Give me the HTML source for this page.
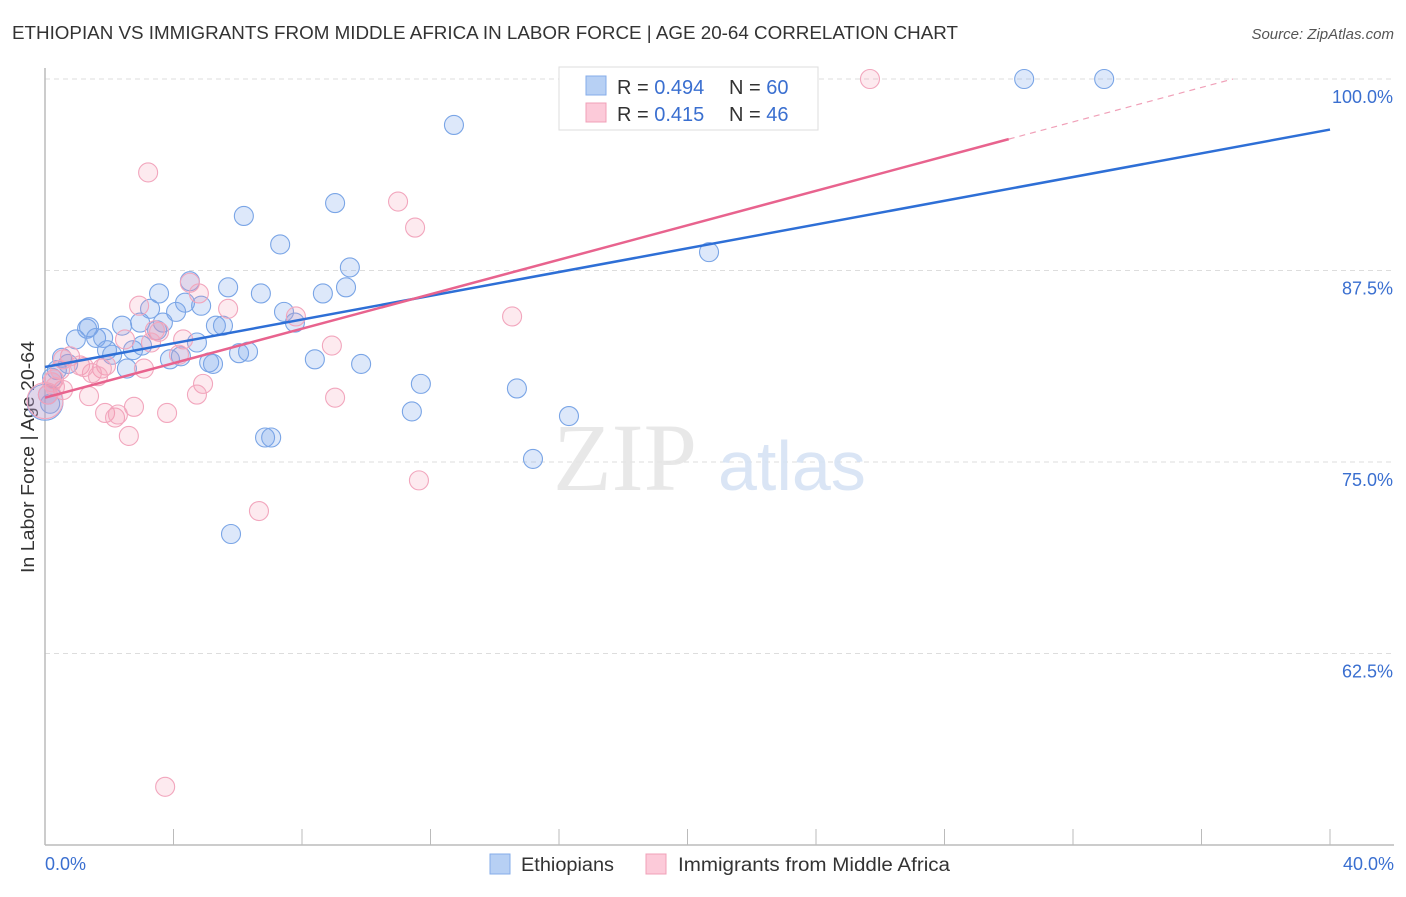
<!DOCTYPE html>
<html><head><meta charset="utf-8"><style>
body{margin:0;background:#fff;font-family:"Liberation Sans",sans-serif;}
</style></head><body>
<svg id="chart" width="1406" height="892" xmlns="http://www.w3.org/2000/svg" font-family="Liberation Sans, sans-serif">
<text x="12" y="39" font-size="18" fill="#333" textLength="946" lengthAdjust="spacingAndGlyphs">ETHIOPIAN VS IMMIGRANTS FROM MIDDLE AFRICA IN LABOR FORCE | AGE 20-64 CORRELATION CHART</text>
<text x="1394" y="39" font-size="15" fill="#555" font-style="italic" text-anchor="end">Source: ZipAtlas.com</text>
<text transform="translate(34,457) rotate(-90)" font-size="18" fill="#333" text-anchor="middle" textLength="232" lengthAdjust="spacingAndGlyphs">In Labor Force | Age 20-64</text>
<g id="grid"></g>
<g opacity="0.9">
<text x="553" y="490" font-family="Liberation Serif, serif" font-size="96" fill="#e6e6e6">ZIP</text>
<text x="718" y="490" font-size="70" fill="#d6e3f4">atlas</text>
</g>
<g id="marks"></g>
<g id="trend"></g>
<g>
<rect x="559" y="67" width="259" height="63" fill="#fff" stroke="#ddd"/>
<rect x="586" y="76" width="20" height="19" fill="#b7d0f4" stroke="#86acea"/>
<rect x="586" y="103" width="20" height="19" fill="#fccad9" stroke="#f0a0b8"/>
<text x="617" y="94" font-size="20" fill="#333">R = <tspan fill="#3a6fd0">0.494</tspan></text>
<text x="729" y="94" font-size="20" fill="#333">N = <tspan fill="#3a6fd0">60</tspan></text>
<text x="617" y="121" font-size="20" fill="#333">R = <tspan fill="#3a6fd0"> 0.415</tspan></text>
<text x="729" y="121" font-size="20" fill="#333">N = <tspan fill="#3a6fd0">46</tspan></text>
</g>
<g>
<rect x="490" y="854" width="20" height="20" fill="#b7d0f4" stroke="#86acea"/>
<text x="521" y="871" font-size="19" fill="#333" textLength="93" lengthAdjust="spacingAndGlyphs">Ethiopians</text>
<rect x="646" y="854" width="20" height="20" fill="#fccad9" stroke="#f0a0b8"/>
<text x="678" y="871" font-size="19" fill="#333" textLength="272" lengthAdjust="spacingAndGlyphs">Immigrants from Middle Africa</text>
</g>
</svg>
<script>
const xTicks=[0,4,8,12,16,20,24,28,32,36,40];
const yTicks=[100,87.5,75,62.5];
const yTickLabels=["100.0%","87.5%","75.0%","62.5%"];
const ethX=[30.48,32.97,12.73,6.19,9.03,7.32,20.67,9.49,4.51,3.55,5.70,6.72,8.65,9.37,4.36,4.86,4.08,7.44,3.27,7.78,2.40,1.31,1.37,3.67,5.32,5.54,2.96,0.96,1.59,1.81,3.02,2.74,4.73,1.93,2.09,0.53,3.89,4.23,5.11,5.23,6.04,6.32,8.40,9.84,2.55,0.37,0.72,0.22,11.70,14.69,11.42,16.31,6.85,7.04,15.19,5.79,0.09,0.16,0,3.49];
const ethY=[100,100,97.0,91.06,91.9,89.2,88.7,87.7,86.8,86.0,86.4,86.0,86.0,86.4,85.4,85.2,84.8,84.8,85.0,84.1,83.9,83.7,83.8,84.1,83.9,83.9,84.1,83.0,83.1,83.1,82.6,82.3,82.8,82.3,82.0,81.8,81.7,81.9,81.5,81.4,82.1,82.2,81.7,81.4,81.1,81.0,81.4,80.5,80.1,79.8,78.3,78.0,76.6,76.6,75.2,70.3,79.4,78.8,78.9,83.6];
const ethBig=[0,0,0,0,0,0,0,0,0,0,0,0,0,0,0,0,0,0,0,0,0,0,0,0,0,0,0,0,0,0,0,0,0,0,0,0,0,0,0,0,0,0,0,0,0,0,0,0,0,0,0,0,0,0,0,0,0,0,1,0];
const immX=[25.68,3.21,10.99,11.52,4.51,4.79,5.70,2.93,14.54,7.81,3.42,3.55,2.49,4.30,3.30,8.93,4.17,0.78,0.56,1.09,1.90,1.77,1.46,1.65,3.08,0.28,4.92,0.56,1.37,4.73,9.03,2.77,1.87,3.80,2.18,2.27,2.61,11.64,6.66,3.74,0.09,0,0.22,0.47,1.21,0.31];
const immY=[100,93.9,92.0,90.3,86.7,86.0,85.0,85.2,84.5,84.5,83.6,83.5,83.0,83.0,82.8,82.6,82.0,81.9,81.7,81.3,81.3,81.1,80.8,80.6,81.1,80.4,80.1,79.7,79.3,79.4,79.2,78.6,78.2,78.2,77.9,78.1,76.7,73.8,71.8,53.8,79.4,79.0,80.2,81.0,81.2,79.9];
const immBig=[0,0,0,0,0,0,0,0,0,0,0,0,0,0,0,0,0,0,0,0,0,0,0,0,0,0,0,0,0,0,0,0,0,0,0,0,0,0,0,0,0,1,0,0,0,0];
const ethTrend=[81.2,0.3875];
const immTrend=[79.2,0.5625];
const NS="http://www.w3.org/2000/svg";
const X=v=>45+v*(1285/40);
const Y=v=>79+(100-v)*(191.5/12.5);
function mk(t,a,p){const e=document.createElementNS(NS,t);for(const k in a)e.setAttribute(k,a[k]);p.appendChild(e);return e;}
const grid=document.getElementById('grid');
yTicks.forEach((t,i)=>{
 const l=mk('line',{x1:45,x2:1394,y1:Y(t),y2:Y(t),stroke:'#ddd','stroke-dasharray':'5,4'},grid);
 
 
 const tx=mk('text',{x:1393,y:Y(t)+24,'font-size':18,fill:'#3a6fd0','text-anchor':'end'},grid);
 tx.textContent=yTickLabels[i];
 
 
});
const ax=mk('line',{x1:45,x2:1394,y1:845,y2:845,stroke:'#bbb','stroke-width':1.5},grid);


const ay=mk('line',{x1:45,x2:45,y1:68,y2:845,stroke:'#bbb','stroke-width':1.5},grid);


xTicks.forEach(t=>{
 const l=mk('line',{x1:X(t),x2:X(t),y1:829,y2:845,stroke:'#bbb'},grid);
 
 
});
[[0,'0.0%','start',45],[40,'40.0%','end',1394]].forEach(d=>{
 const tx=mk('text',{x:d[3],y:870,'font-size':18,fill:'#3a6fd0','text-anchor':d[2]},grid);
 tx.textContent=d[1];
 
 
});
const marks=document.getElementById('marks');
ethX.forEach((v,i)=>{
 const c=mk('circle',{cx:X(v),cy:Y(ethY[i]),r:ethBig[i]?18:9.5,fill:'rgba(120,165,235,0.25)',stroke:'#7aa5e6','stroke-width':1.1},marks);
 
 
});
immX.forEach((v,i)=>{
 const c=mk('circle',{cx:X(v),cy:Y(immY[i]),r:immBig[i]?18:9.5,fill:'rgba(245,150,175,0.2)',stroke:'#f2a6bd','stroke-width':1.1},marks);
 
 
});
const tr=document.getElementById('trend');
const b=mk('line',{x1:X(0),y1:Y(ethTrend[0]),x2:X(40),y2:Y(ethTrend[0]+40*ethTrend[1]),stroke:'#2e6fd6','stroke-width':2.5},tr);


const xe=30;
const p=mk('line',{x1:X(0),y1:Y(immTrend[0]),x2:X(xe),y2:Y(immTrend[0]+xe*immTrend[1]),stroke:'#e8638e','stroke-width':2.5},tr);


const xm=(100-immTrend[0])/immTrend[1];
const pd=mk('line',{x1:X(xe),y1:Y(immTrend[0]+xe*immTrend[1]),x2:X(xm),y2:Y(100),stroke:'#f0a0b8','stroke-width':1.2,'stroke-dasharray':'6,5'},tr);


</script>
</body></html>
